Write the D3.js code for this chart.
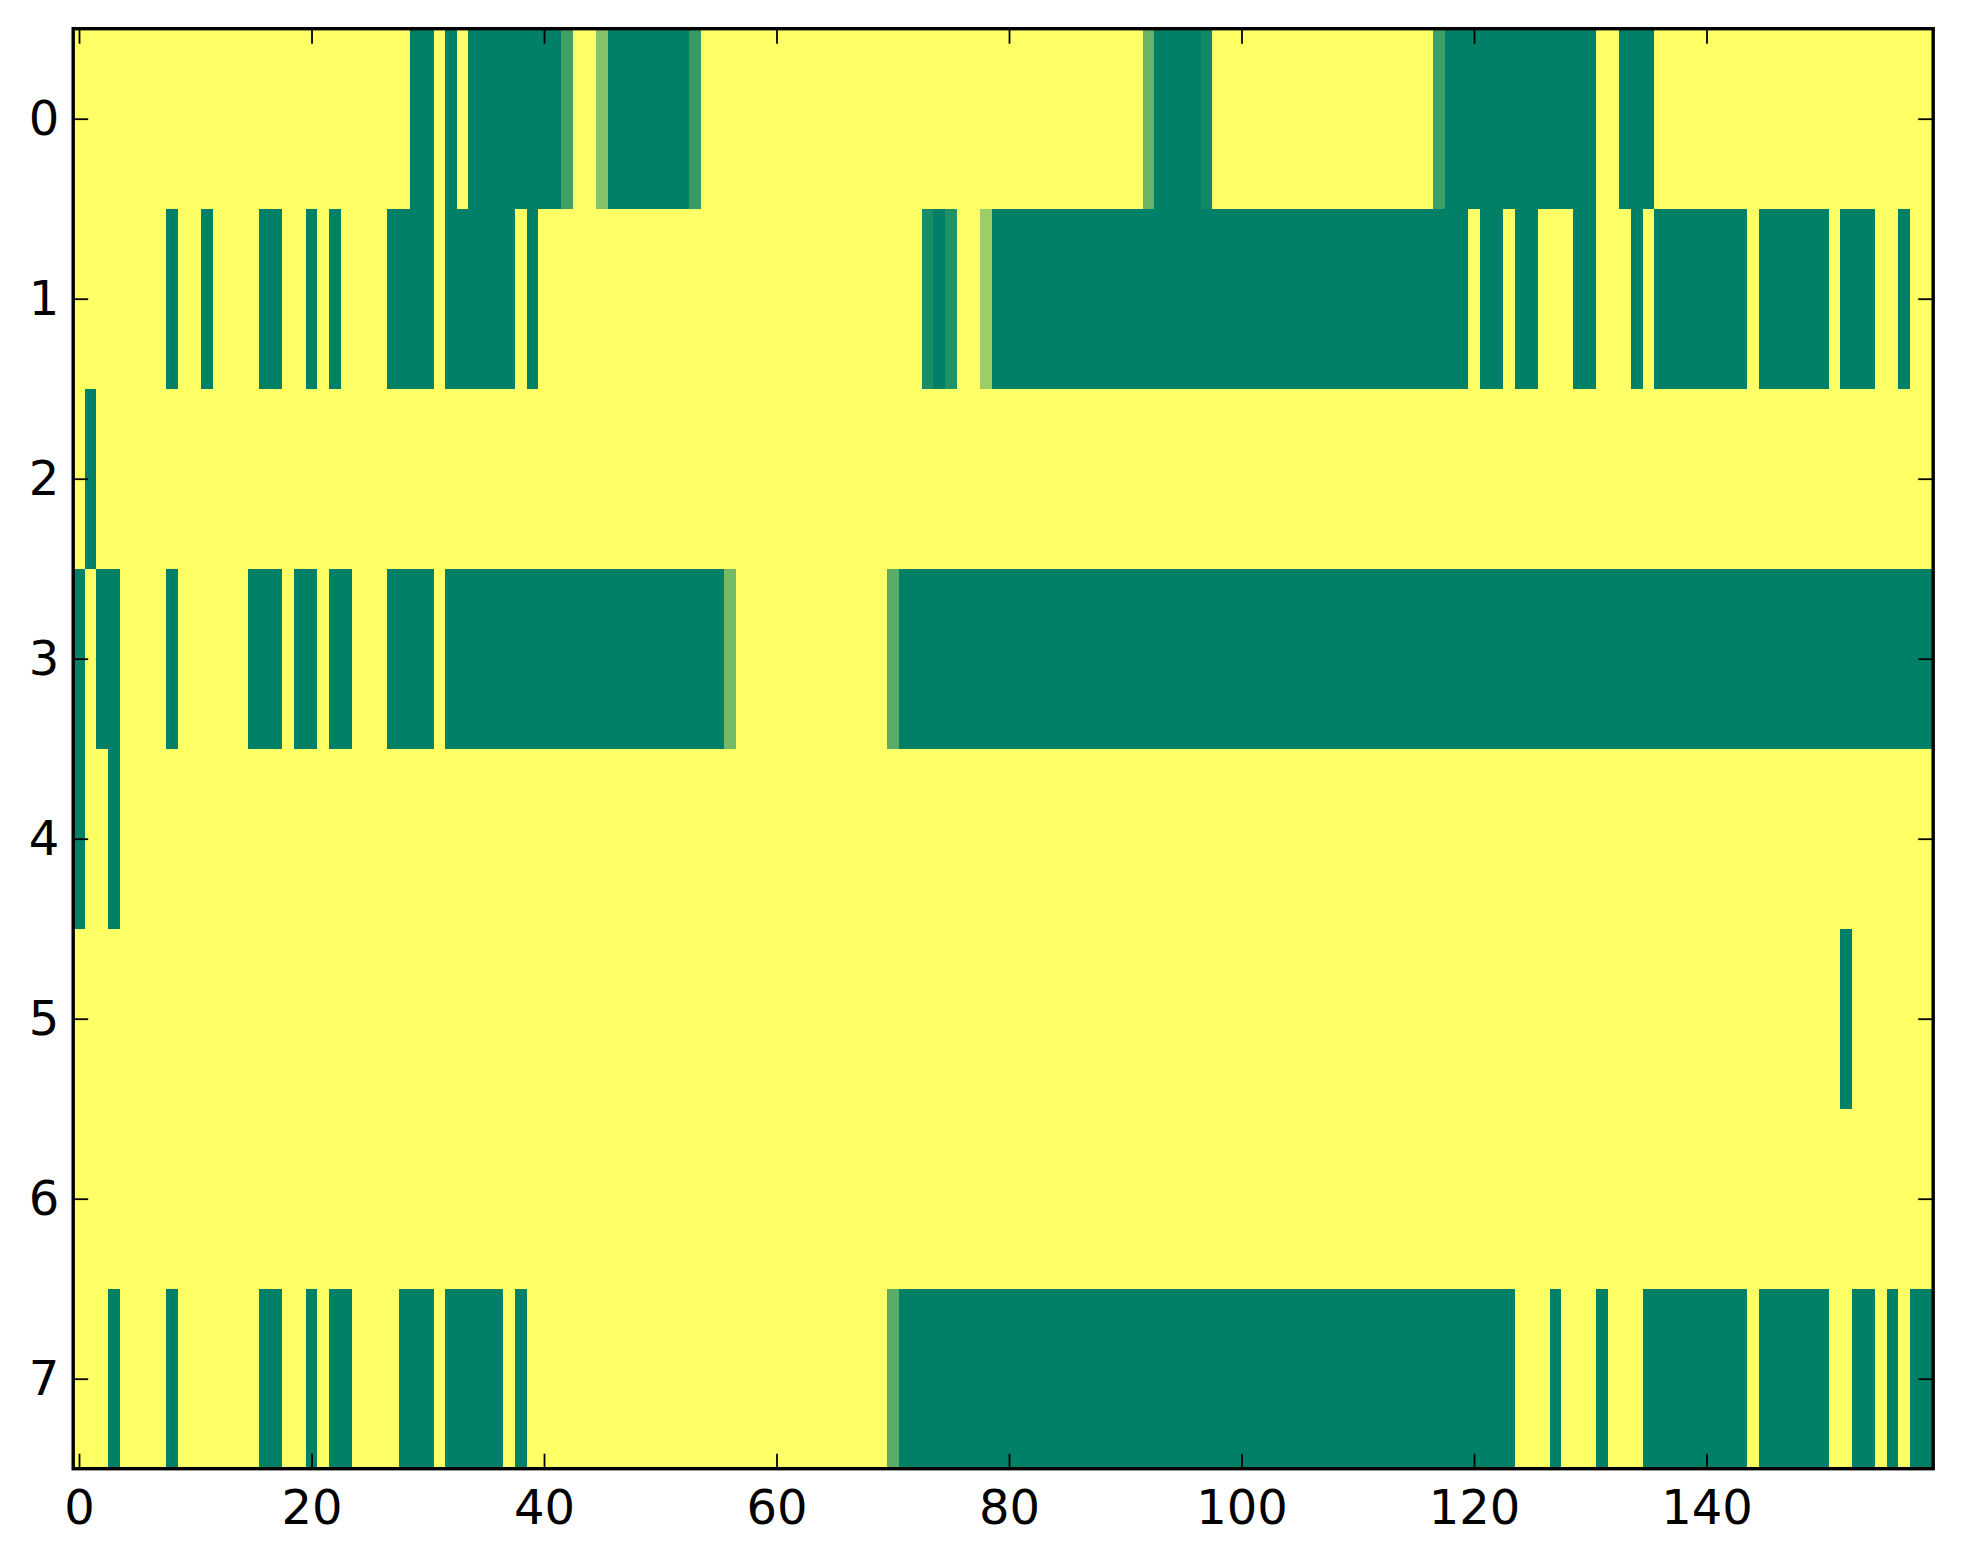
<!DOCTYPE html>
<html>
<head>
<meta charset="utf-8">
<script src="https://cdn.jsdelivr.net/npm/d3@7"></script>
<style>
  body { margin: 0; background: #fff; }
  svg { display: block; }
  .tick text { font-family: "DejaVu Sans", sans-serif; font-size: 48px; fill: #000; }
</style>
</head>
<body>
<div id="chart"></div>
<script>
// one string per row, 10 columns per chunk; '1' = max, '0' = min,
// letters are the in-between cells listed in shades
var row0 = "1111111111 1111111111 1111111110 0101000000 00f11j0000 000d111111 1111111111 1111111111 1111111111 11h0000a11 1111111111 1111111e00 0000000000 0110001111 1111111111 1111111111"
var row1 = "1111111101 1011110011 0101111000 0100000010 1111111111 1111111111 1111111111 111b0c11k0 0000000000 0000000000 0000000000 0000000000 1001001110 0111010000 0000100000 0100011011"
var row2 = "1011111111 1111111111 1111111111 1111111111 1111111111 1111111111 1111111111 1111111111 1111111111 1111111111 1111111111 1111111111 1111111111 1111111111 1111111111 1111111111"
var row3 = "0100111101 1111100010 0100111000 0100000000 0000000000 000000i111 1111111111 g000000000 0000000000 0000000000 0000000000 0000000000 0000000000 0000000000 0000000000 0000000000"
var row4 = "0110111111 1111111111 1111111111 1111111111 1111111111 1111111111 1111111111 1111111111 1111111111 1111111111 1111111111 1111111111 1111111111 1111111111 1111111111 1111111111"
var row5 = "1111111111 1111111111 1111111111 1111111111 1111111111 1111111111 1111111111 1111111111 1111111111 1111111111 1111111111 1111111111 1111111111 1111111111 1111111111 1101111111"
var row6 = "1111111111 1111111111 1111111111 1111111111 1111111111 1111111111 1111111111 1111111111 1111111111 1111111111 1111111111 1111111111 1111111111 1111111111 1111111111 1111111111"
var row7 = "1110111101 1111110011 0100111100 0100000101 1111111111 1111111111 1111111111 g000000000 0000000000 0000000000 0000000000 0000000000 0000111011 1011100000 0000100000 0110010100"

var shades = { a: 0.07, b: 0.10, c: 0.13, d: 0.21, e: 0.24, f: 0.25, g: 0.35, h: 0.41, i: 0.45, j: 0.53, k: 0.61 }

var rows = [row0, row1, row2, row3, row4, row5, row6, row7]
var xTicks = [0, 20, 40, 60, 80, 100, 120, 140]
var yTicks = [0, 1, 2, 3, 4, 5, 6, 7]

var W = 1963, H = 1564
var plotL = 73.2, plotR = 1933.2, plotT = 28.7, plotB = 1468.7

var cells = []
rows.forEach((r, ri) => {
    r.replace(/ /g, "").split("").forEach((ch, ci) => {
        var v = (ch in shades) ? shades[ch] : +ch
        cells.push({ row: ri, col: ci, v: v })
    })
})
var nCols = rows[0].replace(/ /g, "").length

var x = d3.scaleLinear().domain([-0.5, nCols - 0.5]).range([plotL, plotR])
var y = d3.scaleLinear().domain([-0.5, rows.length - 0.5]).range([plotT, plotB])

// matplotlib "summer"
var color = d3.scaleLinear().domain([0, 1]).range(["#008066", "#ffff66"]).interpolate(d3.interpolateRgb)

var svg = d3.select("#chart").append("svg")
    .attr("width", W)
    .attr("height", H)

svg.append("rect").attr("width", W).attr("height", H).attr("fill", "#fff")

svg.append("g")
    .attr("shape-rendering", "crispEdges")
    .selectAll("rect")
    .data(cells)
    .enter()
    .append("rect")
    .attr("x", d => x(d.col - 0.5))
    .attr("y", d => y(d.row - 0.5))
    .attr("width", d => x(d.col + 0.5) - x(d.col - 0.5) + 0.5)
    .attr("height", d => y(d.row + 0.5) - y(d.row - 0.5) + 0.5)
    .attr("fill", d => color(d.v))

function styleAxis(g) {
    g.select(".domain").remove()
    g.selectAll(".tick line").attr("stroke", "#000").attr("stroke-width", 1.8)
}

svg.append("g")
    .attr("transform", "translate(0," + plotB + ")")
    .call(d3.axisBottom(x).tickValues(xTicks).tickSizeInner(-15).tickSizeOuter(0).tickPadding(21))
    .call(styleAxis)
svg.append("g")
    .attr("transform", "translate(0," + plotT + ")")
    .call(d3.axisTop(x).tickValues(xTicks).tickSizeInner(-15).tickSizeOuter(0).tickFormat(""))
    .call(styleAxis)
svg.append("g")
    .attr("transform", "translate(" + plotL + ",0)")
    .call(d3.axisLeft(y).tickValues(yTicks).tickSizeInner(-15).tickSizeOuter(0).tickPadding(14))
    .call(styleAxis)
svg.append("g")
    .attr("transform", "translate(" + plotR + ",0)")
    .call(d3.axisRight(y).tickValues(yTicks).tickSizeInner(-15).tickSizeOuter(0).tickFormat(""))
    .call(styleAxis)

svg.selectAll(".tick text").attr("font-family", "DejaVu Sans").attr("font-size", 48)

// frame
svg.append("rect")
    .attr("x", plotL)
    .attr("y", plotT)
    .attr("width", plotR - plotL)
    .attr("height", plotB - plotT)
    .attr("fill", "none")
    .attr("stroke", "#000")
    .attr("stroke-width", 3.4)
</script>
</body>
</html>
